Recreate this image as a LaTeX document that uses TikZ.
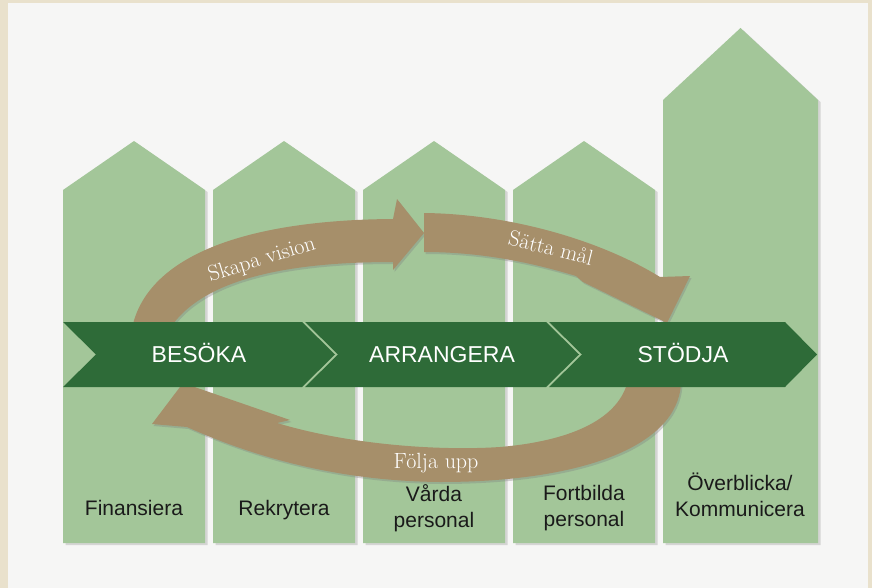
\documentclass[tikz,border=0pt]{standalone}
\usepackage{fontspec}
\newfontfamily\labelsans{Liberation Sans}
\usetikzlibrary{shadows}
\definecolor{colgreen}{HTML}{A3C699}
\definecolor{bandgreen}{HTML}{2E6B38}
\definecolor{brownarrow}{HTML}{A68F6A}
\definecolor{framebeige}{HTML}{E9E1CC}
\definecolor{paper}{HTML}{F6F6F5}
\definecolor{inkblack}{HTML}{1A1A1A}
\begin{document}
\begin{tikzpicture}[x=1pt,y=-1pt,
  column/.style={fill=colgreen, drop shadow={shadow xshift=2.5pt,shadow yshift=-2pt,opacity=.28}},
  chevron/.style={fill=bandgreen},
  cyclearrow/.style={fill=brownarrow, drop shadow={shadow xshift=1.5pt,shadow yshift=-2pt,opacity=.35}},
  phase/.style={text=white,font=\labelsans\fontsize{23}{27}\selectfont, inner sep=0pt, anchor=base},
  task/.style={text=inkblack,font=\labelsans\fontsize{21}{26}\selectfont, align=center, inner sep=0pt},
  cyclelabel/.style={text=white,font=\fontsize{22}{26}\selectfont, inner sep=0pt}]

\useasboundingbox (0,0) rectangle (872,588);
\fill[framebeige] (0,0) rectangle (872,588);
\fill[paper] (8,3) rectangle (868,588);

% columns
\foreach \L/\R/\P/\S in {63/205/141/190, 213/355/141/190, 363/505/141/190, 513/655/141/190, 663/818/28/100}
  \path[column] (\L,543) -- (\L,\S) -- ({(\L+\R)/2},\P) -- (\R,\S) -- (\R,543) -- cycle;

% cycle arrows
\path[cyclearrow] (133,324) .. controls (150,258) and (240,220) .. (393,219)
  -- (397,199) -- (424,233) -- (393,270) -- (393,262)
  .. controls (300,262) and (210,275) .. (173,324) -- cycle;
\path[cyclearrow] (424,213) .. controls (510,214) and (600,240) .. (660,277)
  -- (690,276) -- (667,323) -- (583,282) -- (576,276)
  .. controls (530,262) and (480,252) .. (424,252) -- cycle;
\path[cyclearrow] (681,384) .. controls (677,447) and (580,482) .. (440,482)
  .. controls (330,481) and (245,453) .. (187,427)
  -- (152,424) -- (183,383) -- (290,420) -- (277,423)
  .. controls (350,445) and (440,451) .. (500,447)
  .. controls (570,441) and (616,420) .. (627,384) -- cycle;

% chevron band
\path[chevron] (63,322) -- (302,322) -- (335,354.5) -- (302,387) -- (63,387) -- (96,354.5) -- cycle;
\path[chevron] (305,322) -- (546,322) -- (579,354.5) -- (546,387) -- (305,387) -- (338,354.5) -- cycle;
\path[chevron] (549,322) -- (785,322) -- (817,354.5) -- (785,387) -- (549,387) -- (582,354.5) -- cycle;

% phase labels
\node[phase] (besoka) at (199,362.5) {BESÖKA};
\node[phase] (arrangera) at (442,362.5) {ARRANGERA};
\node[phase] (stodja) at (683,362.5) {STÖDJA};

% cycle labels
\node[cyclelabel, rotate=17] (skapa) at (262,260) {Skapa vision};
\node[cyclelabel, rotate=-14] (satta) at (551,248) {Sätta mål};
\node[cyclelabel] (folja) at (436,463) {Följa upp};

% task labels
\node[task, anchor=base] (finansiera) at (134,515) {Finansiera};
\node[task, anchor=base] (rekrytera) at (284,515) {Rekrytera};
\node[task] (varda) at (434,508) {Vårda\\personal};
\node[task] (fortbilda) at (584,508) {Fortbilda\\personal};
\node[task] (overblicka) at (740,495) {Överblicka/\\Kommunicera};
\end{tikzpicture}
\end{document}
